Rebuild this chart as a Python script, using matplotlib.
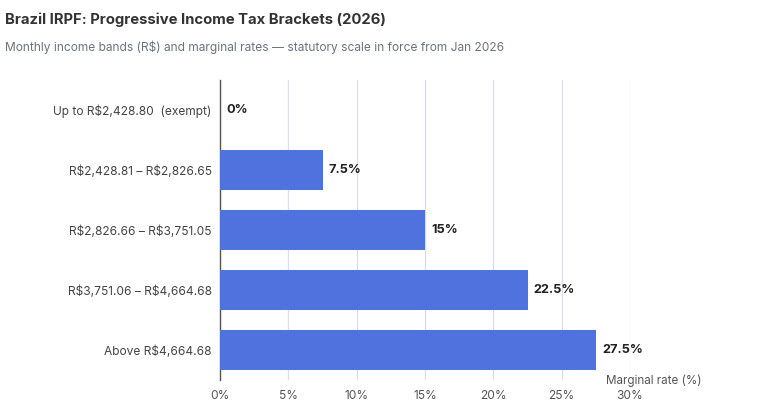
import matplotlib
matplotlib.use("Agg")
import matplotlib.pyplot as plt

plt.rcParams['font.family'] = ['Inter', 'DejaVu Sans']
plt.rcParams['text.parse_math'] = False

brackets = [
    "Up to R$2,428.80  (exempt)",
    "R$2,428.81 – R$2,826.65",
    "R$2,826.66 – R$3,751.05",
    "R$3,751.06 – R$4,664.68",
    "Above R$4,664.68",
]
rates = [0, 7.5, 15, 22.5, 27.5]
rate_labels = ["0%", "7.5%", "15%", "22.5%", "27.5%"]
xticks = [0, 5, 10, 15, 20, 25, 30]

fig = plt.figure(figsize=(7.6, 4.2), dpi=100)
ax = fig.add_axes([220 / 760, 1 - 380 / 420, 410 / 760, 300 / 420])

pos = list(range(len(brackets)))
ax.barh(pos, rates, height=0.68, color="#5072DF", zorder=3)
for p, r, lab in zip(pos, rates, rate_labels):
    ax.annotate(lab, (r, p), xytext=(4.5, 0), textcoords="offset points",
                va="center", ha="left", fontsize=9.2, fontweight="bold",
                color="#222222", zorder=4)

ax.set_ylim(len(brackets) - 0.5, -0.5)
ax.set_xlim(0, 30)
ax.set_yticks(pos)
ax.set_yticklabels(brackets, fontsize=8.6, color="#444444")
ax.set_xticks(xticks)
ax.set_xticklabels([f"{t}%" for t in xticks], fontsize=8.6, color="#555555")
ax.tick_params(axis="y", length=0, pad=6)
ax.tick_params(axis="x", length=0, pad=7)
ax.grid(axis="x", color="#dcdcea", linewidth=0.9, zorder=0)
for s in ["top", "right", "bottom"]:
    ax.spines[s].set_visible(False)
ax.spines["left"].set_color("#555555")
ax.spines["left"].set_linewidth(1.0)

fig.text(702 / 760, 1 - 381 / 420, "Marginal rate (%)", ha="right", va="center",
         fontsize=8.4, color="#555555")

fig.text(5 / 760, 1 - 20 / 420, "Brazil IRPF: Progressive Income Tax Brackets (2026)",
         ha="left", va="center", fontsize=10.7, fontweight="bold", color="#333333")
fig.text(5 / 760, 1 - 47 / 420,
         "Monthly income bands (R$) and marginal rates — statutory scale in force from Jan 2026",
         ha="left", va="center", fontsize=8.6, color="#6b7280")

fig.savefig("out.png", dpi=100)
